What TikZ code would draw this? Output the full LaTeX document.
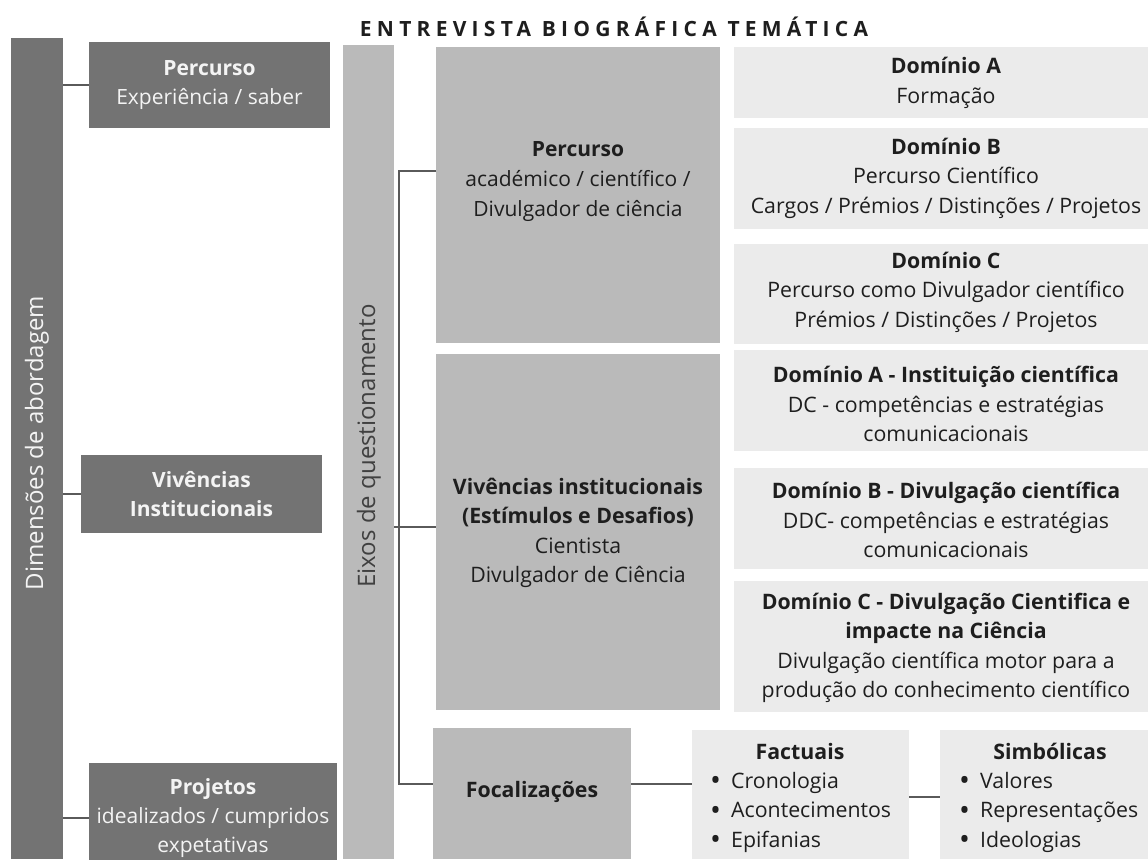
\documentclass[tikz,border=0pt]{standalone}
\usepackage{fontspec}
\setmainfont{Open Sans}
\definecolor{dk}{HTML}{737373}
\definecolor{md}{HTML}{BABABA}
\definecolor{lt}{HTML}{EBEBEB}
\definecolor{ink}{HTML}{1E1E1E}
\definecolor{paper}{HTML}{F4F4F4}
\definecolor{wire}{HTML}{5A5A5A}
\newcommand{\bul}{\makebox[21pt][l]{\raisebox{-2.6pt}{\fontsize{29}{29}\selectfont •}}}
\begin{document}
\begin{tikzpicture}[x=1pt,y=-1pt,
  box/.style={rectangle,inner sep=0pt,outer sep=0pt,align=center,anchor=center},
  dkbox/.style={box,fill=dk,text=paper,font=\fontsize{21}{29}\selectfont},
  mdbox/.style={box,fill=md,text=ink},
  ltbox/.style={box,fill=lt,text=ink},
  otext/.style={align=center,inner sep=0pt,text=ink,font=\fontsize{21}{30}\selectfont},
  rtext/.style={align=center,inner sep=0pt,text=ink,font=\fontsize{21.3}{29.5}\selectfont},
  ltext/.style={inner sep=0pt,text=ink,anchor=base west,font=\fontsize{21.3}{29.5}\selectfont},
  conn/.style={draw=wire,line width=1.3pt}]
\useasboundingbox (0,0) rectangle (1148,859);
\fill[white] (0,0) rectangle (1148,859);

% title
\node[inner sep=0pt,text=ink,font=\fontsize{21}{24}\selectfont\bfseries\addfontfeature{LetterSpace=25}] (title) at (614,27) {ENTREVISTA BIOGRÁFICA TEMÁTICA};

% left bar
\node[box,fill=dk,minimum width=52,minimum height=821] (dim) at (37,448.5) {};
\node[inner sep=0pt,rotate=90,text=paper,font=\fontsize{24}{28}\selectfont] (dimt) at (37,443) {Dimensões de abordagem};

% dark boxes
\node[dkbox,minimum width=241,minimum height=86] (perc1) at (209.5,85) {\textbf{Percurso}\\Experiência / saber};
\node[dkbox,minimum width=241,minimum height=78] (viv1) at (201.5,494) {\textbf{Vivências}\\\textbf{Institucionais}};
\node[dkbox,minimum width=248,minimum height=110] (proj1) at (213,818) {};
\node[dkbox] (proj1t) at (213,818.5) {\textbf{Projetos}\\idealizados / cumpridos\\expetativas};

% eixos bar
\node[box,fill=md,minimum width=51,minimum height=814] (eix) at (368.5,452) {};
\node[inner sep=0pt,rotate=90,text=ink!85,font=\fontsize{24}{28}\selectfont] (eixt) at (369,446) {Eixos de questionamento};

% medium boxes
\node[mdbox,minimum width=284,minimum height=296] (perM) at (578,195) {};
\node[otext] (perMt) at (578,182) {\textbf{Percurso}\\académico / científico /\\Divulgador de ciência};
\node[mdbox,minimum width=284,minimum height=356] (vivM) at (578,532) {};
\node[rtext] (vivMt) at (578,533) {\textbf{Vivências institucionais}\\\textbf{(Estímulos e Desafios)}\\Cientista\\Divulgador de Ciência};
\node[mdbox,minimum width=198,minimum height=131] (focM) at (532,793.5) {};
\node[rtext] (focMt) at (532,792) {\textbf{Focalizações}};

% domain boxes
\node[ltbox,minimum width=424,minimum height=71] (dA) at (946,82.5) {};
\node[rtext] (dAt) at (946,83) {\textbf{Domínio A}\\Formação};
\node[ltbox,minimum width=424,minimum height=101] (dB) at (946,178.5) {};
\node[rtext] (dBt) at (946,178) {\textbf{Domínio B}\\Percurso Científico\\Cargos / Prémios / Distinções / Projetos};
\node[ltbox,minimum width=424,minimum height=100] (dC) at (946,294) {};
\node[rtext] (dCt) at (946,292) {\textbf{Domínio C}\\Percurso como Divulgador científico\\Prémios / Distinções / Projetos};
\node[ltbox,minimum width=424,minimum height=101] (dA2) at (946,400.5) {};
\node[rtext] (dA2t) at (946,404) {\textbf{Domínio A - Instituição científica}\\DC - competências e estratégias\\comunicacionais};
\node[ltbox,minimum width=424,minimum height=101] (dB2) at (946,518.5) {};
\node[rtext] (dB2t) at (946,520) {\textbf{Domínio B - Divulgação científica}\\DDC- competências e estratégias\\comunicacionais};
\node[ltbox,minimum width=424,minimum height=131] (dC2) at (946,646.5) {};
\node[rtext] (dC2t) at (946,648) {\textbf{Domínio C - Divulgação Cientifica e}\\\textbf{impacte na Ciência}\\Divulgação científica motor para a\\produção do conhecimento científico};

% focalization boxes
\node[ltbox,minimum width=217,minimum height=129] (fact) at (800.5,794.5) {};
\node[rtext,anchor=base] (factt) at (800,759) {\textbf{Factuais}};
\node[ltext] (fact1) at (710,788) {\bul Cronologia};
\node[ltext] (fact2) at (710,817.5) {\bul Acontecimentos};
\node[ltext] (fact3) at (710,847) {\bul Epifanias};
\node[ltbox,minimum width=220,minimum height=129] (simb) at (1050,794.5) {};
\node[rtext,anchor=base] (simbt) at (1050,759) {\textbf{Simbólicas}};
\node[ltext] (simb1) at (959,788) {\bul Valores};
\node[ltext] (simb2) at (959,817.5) {\bul Representações};
\node[ltext] (simb3) at (959,847) {\bul Ideologias};

% connectors
\draw[conn] (perc1.west -| dim.east) -- (perc1.west);
\draw[conn] (viv1.west -| dim.east) -- (viv1.west);
\draw[conn] (proj1.west -| dim.east) -- (proj1.west);
\coordinate (brT) at (399,171);
\coordinate (brM) at (399,527);
\coordinate (brB) at (399,784);
\coordinate (fsY) at (925,797);
\draw[conn] (brT -| perM.west) -- (brT) -- (brB) -- (brB -| focM.west);
\draw[conn] (brM -| eix.east) -- (brM -| vivM.west);
\draw[conn] (brB -| focM.east) -- (brB -| fact.west);
\draw[conn] (fsY -| fact.east) -- (fsY -| simb.west);
\end{tikzpicture}
\end{document}
